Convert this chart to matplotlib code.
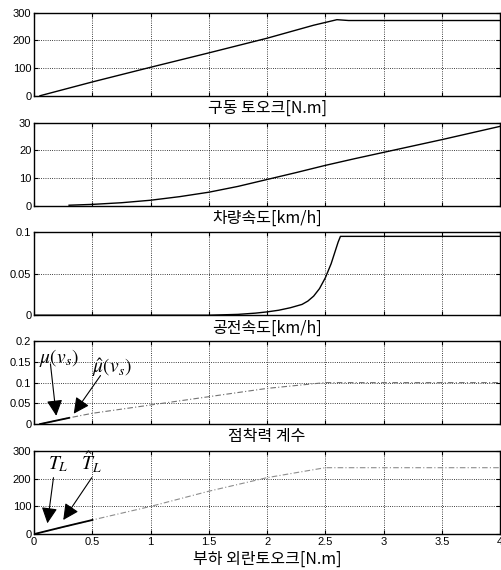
import numpy as np
import matplotlib
matplotlib.use('Agg')
import matplotlib.pyplot as plt

plt.rcParams['font.family'] = ['Liberation Sans', 'Noto Sans CJK KR', 'DejaVu Sans']
plt.rcParams['mathtext.fontset'] = 'stix'

# 구동 토오크
t_torque = [0.05, 0.5, 1.0, 1.5, 2.0, 2.4, 2.6, 2.7, 4.0]
drive_torque = [0, 50, 103, 155, 208, 255, 275, 272, 272]

# 차량속도
t_speed = [0.3, 0.5, 0.75, 1.0, 1.25, 1.5, 1.75, 2.0, 2.25, 2.5, 2.75, 3.0, 3.25, 3.5, 3.75, 4.0]
vehicle_speed = [0.2, 0.5, 1.1, 2.0, 3.3, 4.9, 7.0, 9.5, 12.0, 14.6, 17.0, 19.3, 21.6, 23.9, 26.3, 28.7]

# 공전속도
t_slip = [0, 1.5, 1.75, 1.9, 2.0, 2.1, 2.2, 2.3, 2.35, 2.4, 2.45, 2.5, 2.55, 2.58, 2.61, 2.63, 4.0]
slip_speed = [0, 0, 0.001, 0.0025, 0.004, 0.006, 0.009, 0.013, 0.017, 0.023, 0.032, 0.045, 0.062, 0.075, 0.088, 0.095, 0.095]

# 점착력 계수
t_mu = [0.05, 0.3, 0.5, 1.0, 1.5, 2.0, 2.5, 3.0, 3.5, 4.0]
mu = [0.0, 0.015, 0.026, 0.046, 0.066, 0.086, 0.1, 0.1, 0.1, 0.1]
t_mu_hat = [0.05, 0.15, 0.3]
mu_hat = [0.0, 0.006, 0.015]

# 부하 외란토오크
t_load = [0.0, 0.5, 1.0, 1.5, 2.0, 2.5, 3.0, 3.5, 4.0]
load_torque = [0, 51, 100, 155, 204, 240, 240, 240, 240]
t_load_hat = [0.0, 0.25, 0.5]
load_hat = [0, 26, 51]

xticks = [0, 0.5, 1, 1.5, 2, 2.5, 3, 3.5, 4]
xticklabels = ['0', '0.5', '1', '1.5', '2', '2.5', '3', '3.5', '4']

fig = plt.figure(figsize=(5.02, 5.70), dpi=100)
left, width, height = 0.068, 0.928, 0.1456
bottoms = [0.832, 0.639, 0.447, 0.256, 0.063]
axs = [fig.add_axes([left, b, width, height]) for b in bottoms]

labels = ['구동 토오크[N.m]', '차량속도[km/h]', '공전속도[km/h]', '점착력 계수', '부하 외란토오크[N.m]']
yticks = [[0, 100, 200, 300], [0, 10, 20, 30], [0, 0.05, 0.1],
          [0, 0.05, 0.1, 0.15, 0.2], [0, 100, 200, 300]]
yticklabels = [['0', '100', '200', '300'], ['0', '10', '20', '30'], ['0', '0.05', '0.1'],
               ['0', '0.05', '0.1', '0.15', '0.2'], ['0', '100', '200', '300']]

axs[0].plot(t_torque, drive_torque, color='k', lw=1)
axs[1].plot(t_speed, vehicle_speed, color='k', lw=1)
axs[2].plot(t_slip, slip_speed, color='k', lw=1)
axs[3].plot(t_mu, mu, color='0.45', lw=0.8, linestyle=(0, (5, 2, 1, 2)))
axs[3].plot(t_mu_hat, mu_hat, color='k', lw=1.3)
axs[4].plot(t_load, load_torque, color='0.55', lw=0.8, linestyle=(0, (5, 2, 1, 2)))
axs[4].plot(t_load_hat, load_hat, color='k', lw=1.3)

for i, ax in enumerate(axs):
    ax.set_xlim(0, 4)
    ax.set_ylim(yticks[i][0], yticks[i][-1])
    ax.set_yticks(yticks[i])
    ax.set_yticklabels(yticklabels[i])
    ax.set_xticks(xticks)
    if i == 4:
        ax.set_xticklabels(xticklabels)
    else:
        ax.set_xticklabels([])
    ax.grid(True, color='k', linestyle=':', lw=0.6)
    ax.tick_params(direction='in', top=True, right=True, labelsize=8, length=3, pad=2)
    for sp in ax.spines.values():
        sp.set_linewidth(1.0)
    ax.set_xlabel(labels[i], fontsize=11.5, labelpad=1 if i < 4 else 3,
                  family=['Noto Sans CJK KR', 'DejaVu Sans'])

arrow = dict(arrowstyle='-|>', color='k', lw=0.8, mutation_scale=24, shrinkA=0, shrinkB=0)
axs[3].text(0.21, 0.16, r'$\mu(v_s)$', fontsize=14, ha='center', va='center')
axs[3].annotate('', xy=(0.19, 0.02), xytext=(0.14, 0.145), arrowprops=arrow)
axs[3].text(0.67, 0.136, r'$\hat{\mu}(v_s)$', fontsize=14, ha='center', va='center')
axs[3].annotate('', xy=(0.34, 0.025), xytext=(0.57, 0.117), arrowprops=arrow)

axs[4].text(0.21, 252, r'$T_L$', fontsize=14, ha='center', va='center')
axs[4].annotate('', xy=(0.114, 39), xytext=(0.166, 204), arrowprops=arrow)
axs[4].text(0.49, 260, r'$\hat{T}_L$', fontsize=14, ha='center', va='center')
axs[4].annotate('', xy=(0.25, 51), xytext=(0.495, 204), arrowprops=arrow)

fig.savefig('out.png', dpi=100)
